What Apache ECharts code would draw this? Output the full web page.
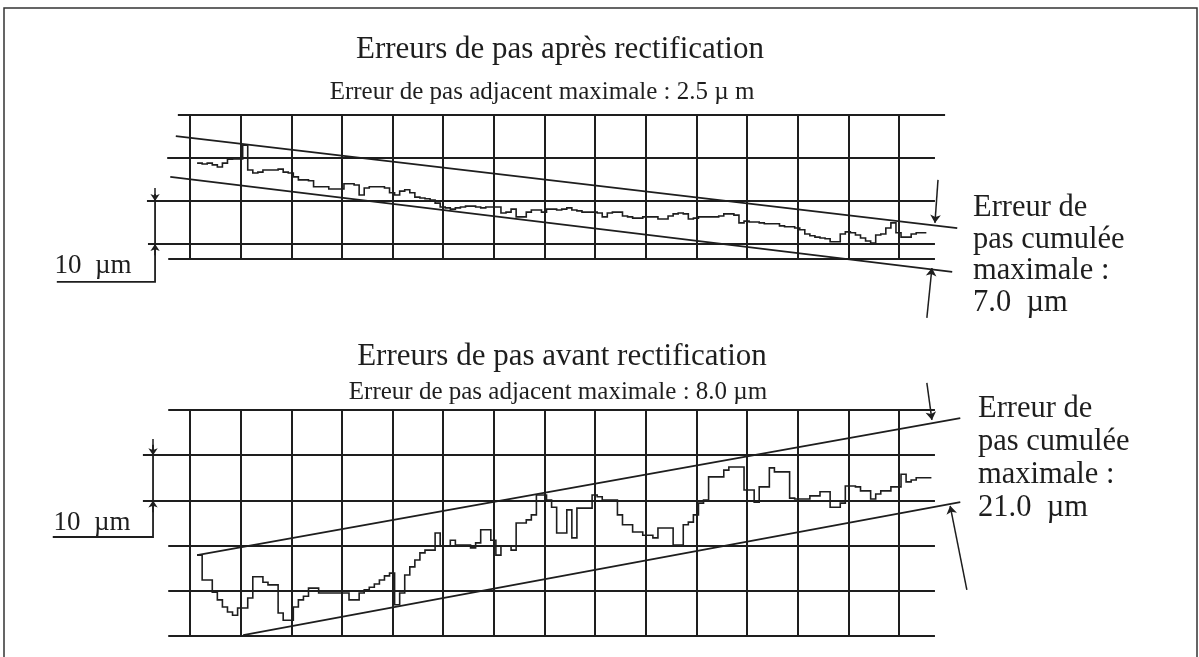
<!DOCTYPE html>
<html>
<head>
<meta charset="utf-8">
<script src="https://cdn.jsdelivr.net/npm/echarts@6/dist/echarts.min.js"></script>
<style>
  html, body { margin: 0; padding: 0; background: #ffffff; }
  #chart { width: 1199px; height: 657px; }
</style>
</head>
<body>
<div id="chart"></div>
<script>
// ---- Data -------------------------------------------------------------
// x: tooth number (one grid division = 10 teeth), y: cumulative pitch error in µm

// first tooth of each recorded trace
const firstTooth = 1.4;

// after grinding (top panel), one value per tooth, µm
const errApres = [
  18.8, 18.6, 18.8, 18.4, 17.9, 18.8, 19.7, 19.8, 19.8, 23.0,
  17.2, 16.5, 16.7, 17.2, 17.2, 17.2, 17.4, 16.7, 16.5, 15.6,
  14.9, 14.9, 14.7, 13.3, 13.3, 13.3, 12.8, 12.8, 12.8, 14.0,
  14.0, 13.7, 11.4, 13.0, 13.3, 13.3, 13.3, 13.0, 11.9, 11.4,
  12.3, 12.6, 11.9, 10.9, 10.7, 10.5, 10.2, 9.5, 8.6, 8.4,
  8.1, 8.4, 8.6, 8.8, 8.8, 8.6, 8.4, 8.6, 8.6, 8.6,
  7.2, 7.4, 8.1, 6.3, 6.3, 7.4, 7.9, 7.9, 7.4, 8.1,
  8.1, 7.9, 8.1, 8.4, 7.9, 7.7, 7.4, 7.4, 7.4, 7.2,
  6.3, 7.2, 7.4, 7.4, 6.5, 6.3, 6.0, 6.0, 6.3, 6.3,
  6.3, 5.8, 5.8, 6.5, 7.0, 7.2, 7.0, 5.8, 6.0, 6.3,
  6.3, 6.3, 6.3, 6.5, 7.0, 7.0, 6.7, 4.9, 5.3, 5.1,
  5.1, 4.9, 4.7, 4.7, 4.7, 4.2, 4.0, 4.0, 3.7, 3.3,
  2.3, 1.9, 1.6, 1.4, 1.2, 0.5, 0.5, 2.3, 2.8, 2.6,
  2.1, 1.4, 0.7, 0.2, 2.1, 2.3, 3.7, 4.9, 2.6, 1.6,
  1.6, 2.3, 2.6, 2.6
];

// before grinding (bottom panel), one value per tooth, µm
const errAvant = [
  17.9, 12.4, 12.4, 9.7, 8.0, 6.4, 5.3, 4.6, 6.2, 6.2,
  8.4, 13.1, 13.1, 11.9, 11.3, 11.3, 5.1, 3.5, 3.5, 6.4,
  8.0, 8.8, 10.6, 10.6, 9.5, 9.5, 9.5, 9.5, 9.5, 9.5,
  8.0, 8.0, 9.5, 10.2, 10.8, 11.5, 12.4, 13.3, 13.9, 6.9,
  9.5, 13.5, 15.3, 16.8, 18.4, 19.0, 19.0, 22.8, 19.9, 19.9,
  21.2, 20.1, 20.1, 20.1, 19.5, 20.6, 23.5, 23.5, 21.2, 17.9,
  19.9, 19.9, 19.0, 25.0, 25.0, 25.7, 26.8, 31.2, 31.2, 30.1,
  28.5, 22.8, 22.8, 27.9, 21.7, 28.3, 28.3, 28.3, 31.2, 30.8,
  30.1, 30.1, 30.1, 26.8, 24.6, 24.6, 23.0, 23.0, 22.3, 22.3,
  21.7, 23.9, 23.9, 23.9, 20.1, 20.1, 24.6, 25.2, 26.8, 29.4,
  30.1, 35.2, 35.2, 35.2, 36.7, 37.4, 37.4, 37.4, 32.3, 32.3,
  29.6, 33.0, 33.0, 37.2, 36.3, 36.3, 36.3, 30.5, 30.3, 30.3,
  30.3, 31.0, 31.0, 31.9, 31.9, 28.5, 28.5, 29.4, 33.2, 33.2,
  33.0, 32.1, 32.1, 30.3, 31.4, 32.1, 32.1, 33.0, 33.0, 35.8,
  34.1, 34.5, 35.0, 35.0, 35.0
];

// bounding lines of the cumulative error, [tooth, µm] end points
const envApresHaut = [[-2.8, 25.1], [151.5, 3.7]];
const envApresBas  = [[-3.9, 15.6], [150.5, -6.5]];
const envAvantHaut = [[1.4, 17.9], [152.1, 48.2]];
const envAvantBas  = [[10.5, 0.2], [152.1, 29.6]];

// horizontal rulings of each panel, µm
const rulesApres = [30, 20, 10, 0, -3.5];
const rulesAvant = [50, 40, 30, 20, 10, 0];

// text
const titreApres = 'Erreurs de pas après rectification';
const sousTitreApres = 'Erreur de pas adjacent maximale : 2.5 µ m';
const titreAvant = 'Erreurs de pas avant rectification';
const sousTitreAvant = 'Erreur de pas adjacent maximale : 8.0 µm';
const noteApres = ['Erreur de', 'pas cumulée', 'maximale :', '7.0  µm'];
const noteAvant = ['Erreur de', 'pas cumulée', 'maximale :', '21.0  µm'];
const echelle = '10  µm';

// ---- Layout & style ----------------------------------------------------
const INK = '#1e1e1e';
const SERIF = '"Liberation Serif", "DejaVu Serif", serif';
const GRID_W = 2;

// horizontal extent (teeth) of each ruling
const rulingSpanApres = [[-2.4, 149.1], [-4.5, 147.1], [-8.5, 147.1], [-8.3, 147.1], [-4.3, 147.1]];
const rulingSpanAvant = [[-4.3, 147.1], [-9.3, 147.1], [-9.3, 147.1], [-4.3, 147.1], [-4.3, 147.1], [-4.3, 147.1]];

const chart = echarts.init(document.getElementById('chart'), null, { renderer: 'canvas' });

// staircase path: each tooth holds its value over one tooth pitch
function stepCoords(values) {
  const pts = [];
  values.forEach((v, i) => {
    pts.push([firstTooth + i, v]);
    pts.push([firstTooth + i + 1, v]);
  });
  return pts;
}

function seg(a, b) { return [a, b]; }

const series = [];

function linesSeries(idx, data, width, opts) {
  return Object.assign({
    type: 'lines', coordinateSystem: 'cartesian2d', xAxisIndex: idx, yAxisIndex: idx,
    silent: true, animation: false, clip: false, symbol: 'none',
    lineStyle: { color: INK, width: width, opacity: 1 },
    data: data
  }, opts || {});
}

function addPanel(idx, rules, spans, values, envHaut, envBas, arrows, scale) {
  // rulings
  series.push(linesSeries(idx,
    rules.map((lvl, k) => ({ coords: [[spans[k][0], lvl], [spans[k][1], lvl]] })), GRID_W));
  // bounding lines
  series.push(linesSeries(idx, [{ coords: envHaut }, { coords: envBas }], 1.8));
  // recorded trace
  series.push(linesSeries(idx, [{ coords: stepCoords(values) }], 1.6, { polyline: true }));
  // pointer arrows toward the bounding lines
  series.push(linesSeries(idx, arrows.map(a => ({ coords: a })), 1.5,
    { symbol: ['none', 'arrow'], symbolSize: 8 }));
  // 10 µm scale bar
  series.push(linesSeries(idx, [{ coords: scale.bar }], 1.8, { polyline: true }));
  series.push(linesSeries(idx, scale.heads.map(h => ({ coords: h })), 1.5,
    { symbol: ['none', 'arrow'], symbolSize: 7 }));
}

addPanel(0, rulesApres, rulingSpanApres, errApres, envApresHaut, envApresBas,
  [seg([147.7, 14.9], [147.1, 4.9]), seg([145.5, -17.2], [146.5, -5.6])],
  { bar: [[-6.9, 11.6], [-6.9, -8.8], [-26.3, -8.8]],
    heads: [seg([-6.9, 13.0], [-6.9, 10.0]), seg([-6.9, -2.6], [-6.9, 0.0])] });

addPanel(1, rulesAvant, rulingSpanAvant, errAvant, envAvantHaut, envAvantBas,
  [seg([145.5, 56.0], [146.5, 47.8]), seg([153.4, 10.2], [150.1, 28.8])],
  { bar: [[-7.3, 42.3], [-7.3, 21.9], [-27.1, 21.9]],
    heads: [seg([-7.3, 43.6], [-7.3, 40.0]), seg([-7.3, 27.4], [-7.3, 30.0])] });

function xAxisFor(idx) {
  return {
    gridIndex: idx, type: 'value', min: 0, max: 140, interval: 10,
    axisLine: { show: false }, axisTick: { show: false }, axisLabel: { show: false },
    splitLine: { show: true, lineStyle: { color: INK, width: GRID_W } }
  };
}
function yAxisFor(idx, min, max) {
  return {
    gridIndex: idx, type: 'value', min: min, max: max,
    axisLine: { show: false }, axisTick: { show: false }, axisLabel: { show: false },
    splitLine: { show: false }
  };
}

function text(t, x, y, size, align) {
  return {
    type: 'text', silent: true,
    style: { text: t, x: x, y: y, fill: INK, font: size + 'px ' + SERIF,
             align: align || 'center', verticalAlign: 'middle' }
  };
}

const graphics = [
  { type: 'rect', silent: true, z: -1,
    shape: { x: 4, y: 8, width: 1193, height: 700 },
    style: { fill: 'none', stroke: '#333333', lineWidth: 1.5 } },
  text(titreApres, 560, 50, 31),
  text(sousTitreApres, 542, 92, 25),
  text(titreAvant, 562, 357, 31),
  text(sousTitreAvant, 558, 392, 25),
  text(echelle, 93, 266, 27),
  text(echelle, 92, 523, 27)
];
noteApres.forEach((t, i) => graphics.push(text(t, 973, 208 + i * 31.5, 30.5, 'left')));
noteAvant.forEach((t, i) => graphics.push(text(t, 978, 409 + i * 33, 30.5, 'left')));

chart.setOption({
  animation: false,
  backgroundColor: '#ffffff',
  grid: [
    { left: 190, top: 115, width: 709, height: 144 },
    { left: 190, top: 410, width: 709, height: 226 }
  ],
  xAxis: [xAxisFor(0), xAxisFor(1)],
  yAxis: [yAxisFor(0, -3.5, 30), yAxisFor(1, 0, 50)],
  series: series,
  graphic: graphics
});
</script>
</body>
</html>
